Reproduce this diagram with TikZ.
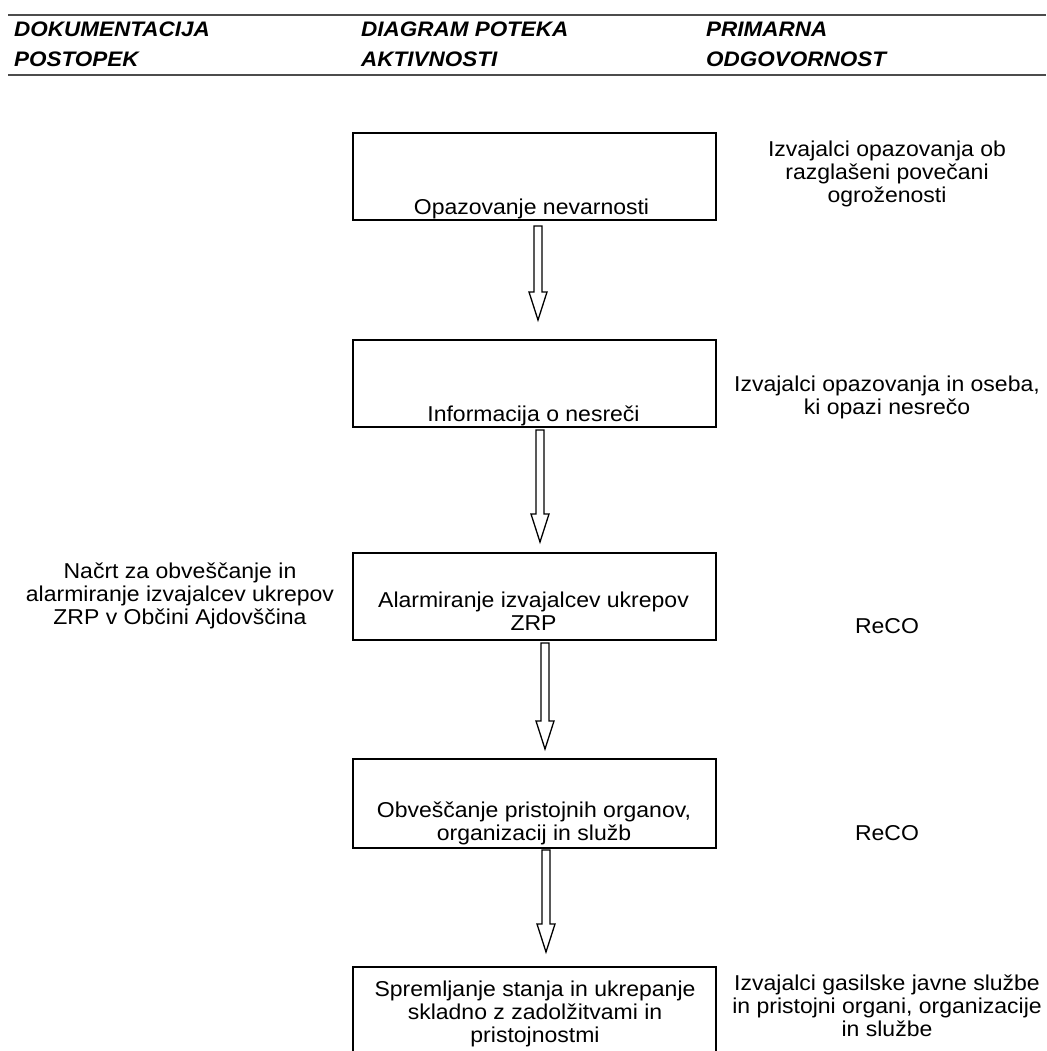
\documentclass[tikz,border=0pt]{standalone}
\usepackage{fontspec}
\setmainfont{Liberation Sans}[FakeStretch=1.07]
\usetikzlibrary{calc}
\tikzset{
  box/.style={draw, line width=1.8pt, minimum width=363pt, inner sep=0pt, outer sep=0pt, anchor=north west},
  txt/.style={font=\fontsize{21.5}{23}\selectfont, align=center, inner sep=0pt, anchor=base},
  hdr/.style={font=\fontsize{21}{30}\selectfont\bfseries\itshape, align=left, inner sep=0pt, anchor=base west},
  rulel/.style={line width=2.4pt, draw=black!70},
  blockarr/.style={draw, line width=1.3pt, fill=white, line join=miter},
}
\newcommand{\blockarrow}[5]{%
  \draw[blockarr] let \p1=(#1.south), \p2=(#2.north) in
    (\x1+#3pt-4pt,\y1-#4pt) -- (\x1+#3pt-4pt,\y2+#5pt+28pt) -- (\x1+#3pt-9pt,\y2+#5pt+28pt)
    -- (\x1+#3pt,\y2+#5pt) -- (\x1+#3pt+9pt,\y2+#5pt+28pt) -- (\x1+#3pt+4pt,\y2+#5pt+28pt)
    -- (\x1+#3pt+4pt,\y1-#4pt) -- cycle;
}
\begin{document}
\begin{tikzpicture}[x=1pt,y=-1pt]
\useasboundingbox[fill=white] (0,0) rectangle (1046,1051);
\clip (0,0) rectangle (1046,1051);

% header (base = baseline of last line)
\draw[rulel] (8,15) coordinate (rl1) -- (1046,15) coordinate (rr1);
\draw[rulel] (8,75) coordinate (rl2) -- (1046,75) coordinate (rr2);
\node[hdr] (h1) at (14,67) {DOKUMENTACIJA\\POSTOPEK};
\node[hdr] (h2) at (361,67) {DIAGRAM POTEKA\\AKTIVNOSTI};
\node[hdr] (h3) at (706,67) {PRIMARNA\\ODGOVORNOST};

% boxes
\node[box, minimum height=87pt] (b1) at (353,133) {};
\node[box, minimum height=87pt] (b2) at (353,340) {};
\node[box, minimum height=87pt] (b3) at (353,553) {};
\node[box, minimum height=89pt] (b4) at (353,759) {};
\node[box, minimum height=110pt] (b5) at (353,967) {};

% box texts
\node[txt] (t1) at (531.5,214) {Opazovanje nevarnosti};
\node[txt] (t2) at (533.5,421) {Informacija o nesreči};
\node[txt] (t3) at (533.5,630) {Alarmiranje izvajalcev ukrepov\\ZRP};
\node[txt] (t4) at (534,840) {Obveščanje pristojnih organov,\\organizacij in služb};
\node[txt] (t5) at (535,1042) {Spremljanje stanja in ukrepanje\\skladno z zadolžitvami in\\pristojnostmi};

% responsibility texts
\node[txt] (r1) at (887,202) {Izvajalci opazovanja ob\\razglašeni povečani\\ogroženosti};
\node[txt] (r2) at (887,414) {Izvajalci opazovanja in oseba,\\ki opazi nesrečo};
\node[txt] (r3) at (887,633) {ReCO};
\node[txt] (r4) at (887,840) {ReCO};
\node[txt] (r5) at (887,1036) {Izvajalci gasilske javne službe\\in pristojni organi, organizacije\\in službe};

% documentation text
\node[txt] (l3) at (180,624) {Načrt za obveščanje in\\alarmiranje izvajalcev ukrepov\\ZRP v Občini Ajdovščina};

% arrows
\blockarrow{b1}{b2}{3.5}{6}{20}
\blockarrow{b2}{b3}{5.5}{3}{11}
\blockarrow{b3}{b4}{10.5}{3}{10}
\blockarrow{b4}{b5}{11.5}{2}{15}
\end{tikzpicture}
\end{document}
